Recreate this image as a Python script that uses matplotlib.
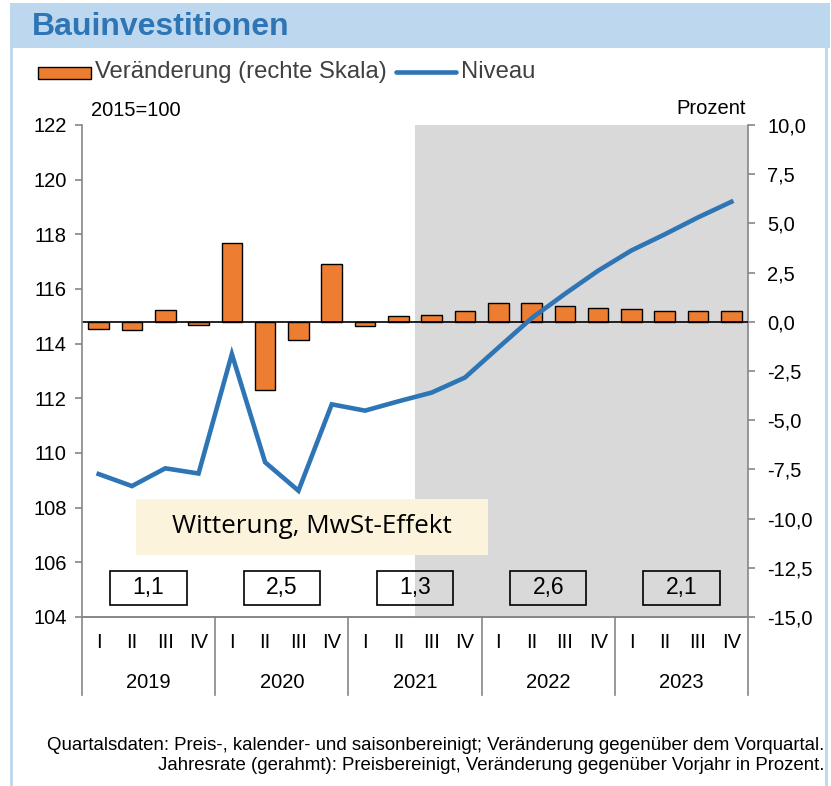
import matplotlib
matplotlib.use("Agg")
import matplotlib.pyplot as plt
from matplotlib.patches import Rectangle
from matplotlib.lines import Line2D
import matplotlib.transforms as mtransforms

plt.rcParams['font.family'] = ['Liberation Sans', 'DejaVu Sans']

years = ["2019", "2020", "2021", "2022", "2023"]
quarters = ["I", "II", "III", "IV"]
change = [-0.36, -0.42, 0.61, -0.17,
          4.0, -3.49, -0.95, 2.93,
          -0.22, 0.27, 0.34, 0.53,
          0.95, 0.95, 0.81, 0.69,
          0.64, 0.53, 0.53, 0.53]
level = [109.23, 108.79, 109.44, 109.25,
         113.62, 109.66, 108.62, 111.78,
         111.55, 111.89, 112.21, 112.76,
         113.85, 114.93, 115.82, 116.67,
         117.41, 118.0, 118.62, 119.19]
annual_rates = ["1,1", "2,5", "1,3", "2,6", "2,1"]
left_ticks = [104, 106, 108, 110, 112, 114, 116, 118, 120, 122]
right_ticks = [-15.0, -12.5, -10.0, -7.5, -5.0, -2.5, 0.0, 2.5, 5.0, 7.5, 10.0]
forecast_start = 10  # index of first forecast quarter (2021 III)

W, H = 831, 786
fig = plt.figure(figsize=(W / 100, H / 100), dpi=100)

def fx(px):
    return px / W

def fy(py):
    return 1 - py / H

# Frame
frame_col = '#BDD7EE'
fig.patches.append(Rectangle((fx(10), fy(48)), fx(820), 45 / H, transform=fig.transFigure,
                             facecolor=frame_col, edgecolor='none', zorder=0))
fig.lines.append(Line2D([fx(11), fx(11)], [fy(48), 0], transform=fig.transFigure,
                        color=frame_col, lw=2))
fig.lines.append(Line2D([fx(826), fx(826)], [fy(48), 0], transform=fig.transFigure,
                        color=frame_col, lw=2))
fig.text(fx(32), fy(27), "Bauinvestitionen", fontsize=23, fontweight='bold',
         color='#2E75B6', va='center', ha='left')

# Axes
ax = fig.add_axes([fx(82), fy(617), fx(748 - 82), (617 - 125) / H])
ax2 = ax.twinx()
ax.set_zorder(ax2.get_zorder() + 1)
ax.patch.set_visible(False)

n = len(change)
x = list(range(n))

ax2.axvspan(forecast_start - 0.5, n - 0.5, color='#D9D9D9', lw=0, zorder=0)
ax2.bar(x, change, width=0.62, color='#ED7D31', edgecolor='black', linewidth=1.0, zorder=2)
ax2.axhline(0, color='black', lw=1.2, zorder=3)
ax2.set_ylim(-15, 10)
ax2.set_yticks(right_ticks)
ax2.set_yticklabels([f"{t:.1f}".replace('.', ',') for t in right_ticks])

ax.plot(x, level, color='#2E75B6', lw=3.3, solid_joinstyle='miter', zorder=4)
ax.set_ylim(104, 122)
ax.set_yticks(left_ticks)
ax.set_xlim(-0.5, n - 0.5)
ax2.set_xlim(-0.5, n - 0.5)

spine_col = '#868686'
for a in (ax, ax2):
    a.spines['top'].set_visible(False)
    for s in ('left', 'right', 'bottom'):
        a.spines[s].set_color(spine_col)
        a.spines[s].set_linewidth(1.2)
    a.tick_params(axis='y', direction='out', length=5, width=1.2, color=spine_col,
                  labelsize=14.5, pad=6)
    a.set_xticks([])
ax2.tick_params(axis='y', pad=9)
ax.spines['right'].set_visible(False)
ax2.spines['left'].set_visible(False)

# Category labels
trans = mtransforms.blended_transform_factory(ax.transData, ax.transAxes)
for i in range(n):
    ax.text(i, -0.052, quarters[i % 4], transform=trans, ha='center', va='center',
            fontsize=14.5, family=['Liberation Sans Narrow', 'Liberation Sans'])
for j, yr in enumerate(years):
    ax.text(4 * j + 1.5, -0.133, yr, transform=trans, ha='center', va='center', fontsize=14.5)
for b in range(len(years) + 1):
    xb = 4 * b - 0.5
    ax.plot([xb, xb], [0, -0.159], transform=trans, color=spine_col, lw=1.2, clip_on=False)

# Annual rate boxes
for j, r in enumerate(annual_rates):
    cx = 4 * j + 1.5
    ax.add_patch(Rectangle((cx - 1.15, 104.44), 2.3, 1.26, facecolor='none',
                           edgecolor='black', lw=1.2, zorder=5))
    ax.text(cx, 105.07, r, ha='center', va='center', fontsize=16.5, zorder=6)

# Annotation
ax.add_patch(Rectangle((1.12, 106.27), 10.57, 2.05, facecolor='#FBF3DC', edgecolor='none', zorder=5))
ax.text((1.12 + 11.69) / 2, 107.3, "Witterung, MwSt-Effekt", ha='center', va='center',
        fontsize=18.8, family=['Open Sans', 'DejaVu Sans'], zorder=6)

# Axis unit labels
fig.text(fx(91), fy(110), "2015=100", fontsize=14.5, ha='left', va='center')
fig.text(fx(746), fy(108), "Prozent", fontsize=14.5, ha='right', va='center')

# Legend
fig.patches.append(Rectangle((fx(38), fy(79)), fx(53), 12 / H, transform=fig.transFigure,
                             facecolor='#ED7D31', edgecolor='black', lw=1))
fig.text(fx(95), fy(72), "Veränderung (rechte Skala)", fontsize=17.2, color='#404040',
         ha='left', va='center')
fig.lines.append(Line2D([fx(396), fx(456)], [fy(72), fy(72)], transform=fig.transFigure,
                        color='#2E75B6', lw=3.3, solid_capstyle='round'))
fig.text(fx(461), fy(72), "Niveau", fontsize=17.2, color='#404040', ha='left', va='center')

# Footnote
fig.text(fx(824), fy(745), "Quartalsdaten: Preis-, kalender- und saisonbereinigt; Veränderung gegenüber dem Vorquartal.",
         fontsize=13.4, ha='right', va='center')
fig.text(fx(824), fy(766), "Jahresrate (gerahmt): Preisbereinigt, Veränderung gegenüber Vorjahr in Prozent.",
         fontsize=13.4, ha='right', va='center')

fig.savefig("out.png", dpi=100)
